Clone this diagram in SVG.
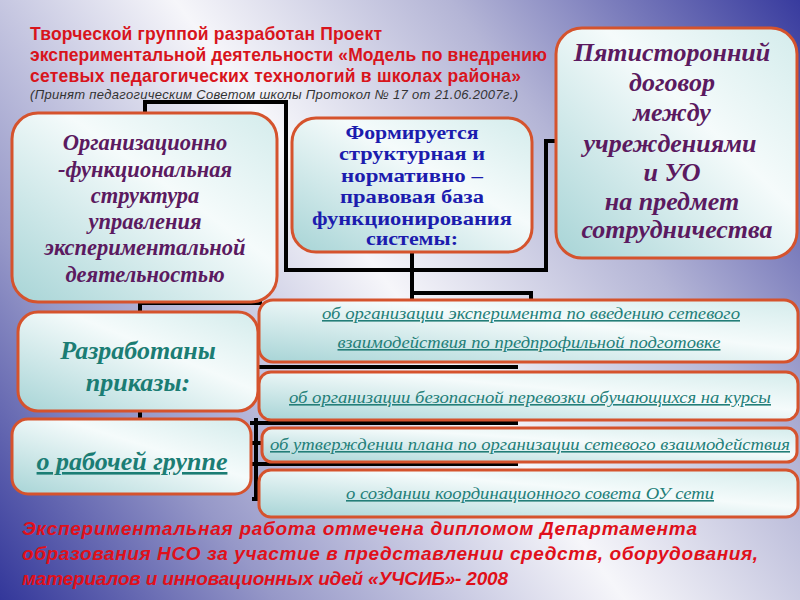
<svg xmlns="http://www.w3.org/2000/svg" width="800" height="600" viewBox="0 0 800 600">
<defs>
<linearGradient id="bg" gradientUnits="userSpaceOnUse" x1="0" y1="600" x2="800" y2="0">
<stop offset="0" stop-color="#33379a"/>
<stop offset="0.22" stop-color="#9698c8"/>
<stop offset="0.5" stop-color="#f6f6fa"/>
<stop offset="0.72" stop-color="#b4b5d6"/>
<stop offset="1" stop-color="#383b9e"/>
</linearGradient>
<linearGradient id="boxfill" x1="0" y1="1" x2="1" y2="0">
<stop offset="0" stop-color="#a7d4d6"/>
<stop offset="0.6" stop-color="#f5fbfb"/>
<stop offset="1" stop-color="#d4ecec"/>
</linearGradient>
<style>
.box{fill:url(#boxfill);stroke:#d5532d;stroke-width:3}
.conn{fill:none;stroke:#000;stroke-width:4}
.title{font-family:"Liberation Sans",Arial,sans-serif;font-weight:bold;font-size:17.5px;fill:#d8141c}
.note{font-family:"Liberation Sans",Arial,sans-serif;font-style:italic;font-size:13px;fill:#333}
.purple{font-family:"Liberation Serif","Times New Roman",serif;font-style:italic;font-weight:bold;font-size:22.5px;fill:#5b1a60;text-anchor:middle}
.purple2{font-family:"Liberation Serif","Times New Roman",serif;font-style:italic;font-weight:bold;font-size:26px;fill:#5b1a60;text-anchor:middle}
.blue{font-family:"Liberation Serif","Times New Roman",serif;font-weight:bold;font-size:19px;fill:#1c1cae;text-anchor:middle}
.teal{font-family:"Liberation Serif","Times New Roman",serif;font-style:italic;font-weight:bold;font-size:26px;fill:#1b7d74;text-anchor:middle}
.small{font-family:"Liberation Serif","Times New Roman",serif;font-style:italic;font-size:16px;fill:#237e78;text-anchor:middle;text-decoration:underline}
.foot{font-family:"Liberation Sans",Arial,sans-serif;font-style:italic;font-weight:bold;font-size:19px;fill:#e0101a}
</style>
</defs>
<rect width="800" height="600" fill="url(#bg)"/>

<g id="title">
<text class="title" x="30" y="40" textLength="352">Творческой группой разработан  Проект</text>
<text class="title" x="30" y="61" textLength="517">экспериментальной деятельности «Модель по внедрению</text>
<text class="title" x="30" y="82" textLength="491">сетевых педагогических технологий в школах района»</text>
<text class="note" x="30" y="99" textLength="488">(Принят педагогическим Советом школы   Протокол № 17  от 21.06.2007г.)</text>
</g>

<g id="connectors">
<path class="conn" d="M145,112 V102 H286 V270 H546 V141 H556"/>
<path class="conn" d="M412,250 V305 M412,293 H531 V302"/>
<path class="conn" d="M140,298 V420 M138,303 H262"/>
<path class="conn" d="M250,367 H518 M250,423 H518 M250,464 H518"/>
<path class="conn" d="M256,418 V500 M252,443 H262 M252,499 H262"/>
</g>

<g id="node-org">
<rect class="box" x="12" y="113" width="265" height="189" rx="26"/>
<text class="purple" x="145" y="150">Организационно</text>
<text class="purple" x="145" y="177">-функциональная</text>
<text class="purple" x="145" y="203">структура</text>
<text class="purple" x="145" y="229">управления</text>
<text class="purple" x="145" y="255">экспериментальной</text>
<text class="purple" x="145" y="282">деятельностью</text>
</g>

<g id="node-base">
<rect class="box" x="292" y="118" width="240" height="134" rx="24"/>
<text class="blue" x="412" y="139" textLength="133" lengthAdjust="spacingAndGlyphs">Формируется</text>
<text class="blue" x="412" y="160" textLength="146" lengthAdjust="spacingAndGlyphs">структурная и</text>
<text class="blue" x="412" y="182" textLength="142" lengthAdjust="spacingAndGlyphs">нормативно –</text>
<text class="blue" x="412" y="203" textLength="144" lengthAdjust="spacingAndGlyphs">правовая база</text>
<text class="blue" x="412" y="225" textLength="200" lengthAdjust="spacingAndGlyphs">функционирования</text>
<text class="blue" x="412" y="245" textLength="92" lengthAdjust="spacingAndGlyphs">системы:</text>
</g>

<g id="node-contract">
<rect class="box" x="556" y="28" width="241" height="230" rx="26"/>
<text class="purple2" x="672" y="61">Пятисторонний</text>
<text class="purple2" x="672" y="91">договор</text>
<text class="purple2" x="672" y="121">между</text>
<text class="purple2" x="670" y="152">учреждениями</text>
<text class="purple2" x="672" y="181">и УО</text>
<text class="purple2" x="672" y="210">на предмет</text>
<text class="purple2" x="677" y="238">сотрудничества</text>
</g>

<g id="node-orders">
<rect class="box" x="18" y="312" width="240" height="99" rx="20"/>
<text class="teal" x="138" y="359">Разработаны</text>
<text class="teal" x="138" y="391">приказы:</text>
</g>

<g id="node-group">
<rect class="box" x="12" y="419" width="239" height="75" rx="16"/>
<text class="teal" x="132" y="470" style="text-decoration:underline">о рабочей группе</text>
</g>

<g id="node-o1">
<rect class="box" x="259" y="300" width="539" height="62" rx="14"/>
<text class="small" x="531" y="319" textLength="418" lengthAdjust="spacingAndGlyphs">об организации эксперимента  по введению  сетевого </text>
<text class="small" x="529" y="348" textLength="383" lengthAdjust="spacingAndGlyphs">взаимодействия  по предпрофильной подготовке</text>
</g>

<g id="node-o2">
<rect class="box" x="259" y="372" width="539" height="48" rx="12"/>
<text class="small" x="530" y="403" textLength="482" lengthAdjust="spacingAndGlyphs">об организации безопасной перевозки  обучающихся на курсы</text>
</g>

<g id="node-o3">
<rect class="box" x="262" y="428" width="535" height="34" rx="10"/>
<text class="small" x="530" y="450" textLength="520" lengthAdjust="spacingAndGlyphs">об утверждении  плана по организации сетевого  взаимодействия </text>
</g>

<g id="node-o4">
<rect class="box" x="259" y="470" width="539" height="47" rx="12"/>
<text class="small" x="530" y="499" textLength="368" lengthAdjust="spacingAndGlyphs">о создании координационного совета ОУ сети</text>
</g>

<g id="footer">
<text class="foot" x="22" y="535" textLength="675">Экспериментальная работа отмечена дипломом  Департамента</text>
<text class="foot" x="22" y="560" textLength="736">образования НСО за участие в представлении  средств, оборудования,</text>
<text class="foot" x="22" y="585" textLength="486">материалов и инновационных идей «УЧСИБ»- 2008</text>
</g>
</svg>
